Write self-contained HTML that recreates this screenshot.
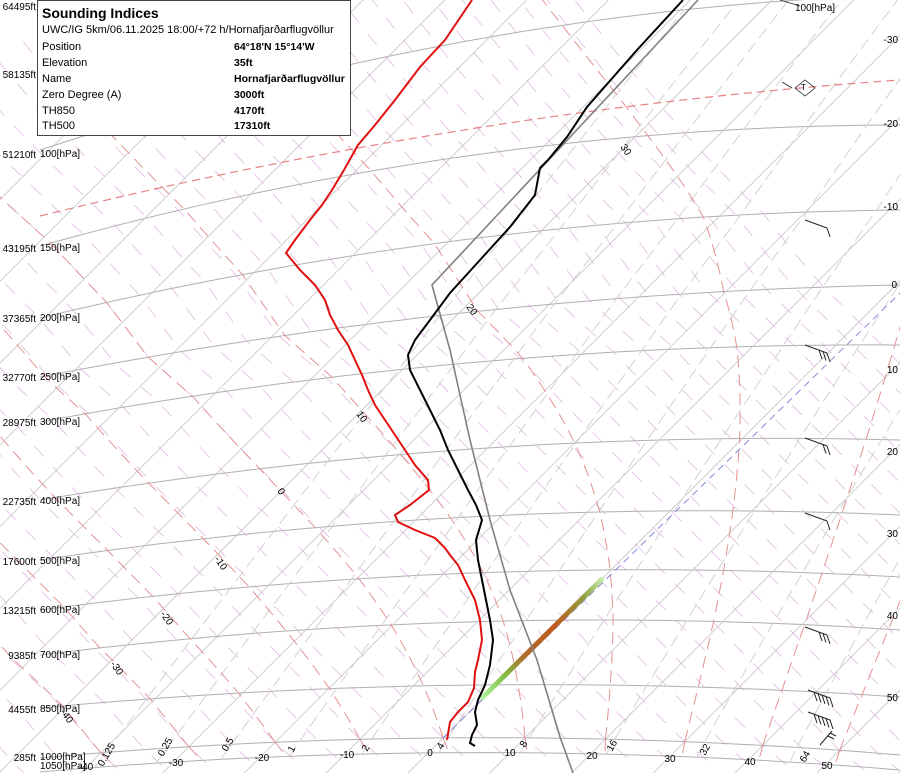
<!DOCTYPE html>
<html><head><meta charset="utf-8"><style>
html,body{margin:0;padding:0;background:#fff;width:900px;height:773px;overflow:hidden;}
#wrap{position:relative;width:900px;height:773px;overflow:hidden;font-family:"Liberation Sans",sans-serif;}
svg{position:absolute;left:0;top:0;}
.lg{position:absolute;left:37px;top:0;width:312px;height:134px;border:1px solid #444;background:#fff;font-size:11px;color:#000;}
.lg .t{font-size:14px;margin:4px 0 0 4px;height:17px;font-weight:bold;}
.lg .r{position:absolute;left:4px;white-space:nowrap;}
.lg .v{position:absolute;left:196px;font-weight:bold;font-size:10.5px;white-space:nowrap;}
</style></head><body><div id="wrap">
<svg id="s" width="900" height="773" viewBox="0 0 900 773" xmlns="http://www.w3.org/2000/svg"></svg>
<div class="lg">
<div class="t">Sounding Indices</div>
<div class="r" style="top:23px">UWC/IG 5km/06.11.2025 18:00/+72 h/Hornafjarðarflugvöllur</div>
<div class="r" style="top:40px">Position</div><div class="v" style="top:40px">64°18'N 15°14'W</div>
<div class="r" style="top:56px">Elevation</div><div class="v" style="top:56px">35ft</div>
<div class="r" style="top:72px">Name</div><div class="v" style="top:72px">Hornafjarðarflugvöllur</div>
<div class="r" style="top:88px">Zero Degree (A)</div><div class="v" style="top:88px">3000ft</div>
<div class="r" style="top:104px">TH850</div><div class="v" style="top:104px">4170ft</div>
<div class="r" style="top:119px">TH500</div><div class="v" style="top:119px">17310ft</div>
</div>
</div>
<script>
(function(){
var NS="http://www.w3.org/2000/svg",s=document.getElementById("s");
function el(t,a,txt){var e=document.createElementNS(NS,t);for(var k in a)e.setAttribute(k,a[k]);if(txt!==undefined)e.textContent=txt;s.appendChild(e);return e;}
var P=[1050,1000,850,700,600,500,400,300,250,200,150,100];
var YL=[772,758,708,655,610,560,500,422,377,318,246,150];
var YM=[754,739,685,620,570,512,442,353,300,225,140,20];
var YR=[770,755,697,630,577,515,440,345,285,210,125,-5];
function interp(arr,p){var l=Math.log(p);var i=0;for(i=0;i<P.length-2;i++){if(p>=P[i+1])break;}
var l0=Math.log(P[i]),l1=Math.log(P[i+1]);var f=(l-l0)/(l1-l0);return arr[i]+(arr[i+1]-arr[i])*f;}
function Y(p,x){var a=interp(YL,p),b=interp(YM,p),c=interp(YR,p);
var x0=40,x1=600,x2=900;
return a*(x-x1)*(x-x2)/((x0-x1)*(x0-x2))+b*(x-x0)*(x-x2)/((x1-x0)*(x1-x2))+c*(x-x0)*(x-x1)/((x2-x0)*(x2-x1));}
function xy(T,p){var C=1181+8.18*T,x=C-700,y;for(var i=0;i<40;i++){y=Y(p,x);x=C-y;}return [x,y];}
function poly(pts,st){var d="";pts.forEach(function(q,i){d+=(i?"L":"M")+q[0].toFixed(1)+","+q[1].toFixed(1);});st.d=d;st.fill="none";return el("path",st);}
P.forEach(function(p){var pts=[];for(var x=40;x<=900;x+=20)pts.push([x,Y(p,x)]);poly(pts,{stroke:"#b0b0b0","stroke-width":1});});
for(var T=-120;T<=60;T+=10){var C=1181+8.18*T;poly([[C-780,780],[C+20,-20]],{stroke:"#c4c4c4","stroke-width":0.8});}
for(var th=-80;th<=120;th+=5){var K=th+273.15,pts=[];for(var p=1060;p>=60;p-=10){var t=K*Math.pow(p/1000,0.2857)-273.15;pts.push(xy(t,p));}
poly(pts,{stroke:"#d8a2d8","stroke-width":0.8,"stroke-dasharray":"14,14","stroke-opacity":0.75});}
[0.125,0.25,0.5,1,2,4,8,16,32,64].forEach(function(w){var pts=[];for(var p=1050;p>=100;p-=10){var e=w*p/(622+w),l=Math.log(e/6.112);var td=243.5*l/(17.67-l);pts.push(xy(td,p));}
poly(pts,{stroke:"#d2d2d2","stroke-width":1,"stroke-dasharray":"12,6"});});
function es(tc){return 6.112*Math.exp(17.67*tc/(tc+243.5));}
function dTdp(T,p){var tc=T-273.15,e=es(tc),rs=0.622*e/(p-e),Rd=287,Lv=2.5e6,cp=1004;
return (1/p)*(Rd*T+Lv*rs)/(cp+Lv*Lv*rs*0.622/(Rd*T*T));}
for(var T0=-40;T0<=50;T0+=10){var T=T0+273.15,pts=[xy(T0,1000)],p=1000;
while(p>90){var k1=dTdp(T,p);var k2=dTdp(T-2.5*k1,p-2.5);T=T-5*k2;p-=5;pts.push(xy(T-273.15,p));}
poly(pts,{stroke:"#e49292","stroke-width":1,"stroke-dasharray":"12,7"});
T=T0+273.15;p=1000;var pd=[xy(T0,1000)];while(p<1050){T+=5*dTdp(T,p);p+=5;pd.push(xy(T-273.15,p));}
poly(pd,{stroke:"#e49292","stroke-width":1,"stroke-dasharray":"12,7"});}
el("path",{d:"M40,216 Q470,110 900,80",fill:"none",stroke:"#e88080","stroke-width":1.2,"stroke-dasharray":"8,5"});
var z0=xy(0,1000);el("path",{d:"M"+z0[0]+","+z0[1]+" L900,293",stroke:"#8888dd","stroke-width":1,"stroke-dasharray":"7,5",fill:"none"});
var g=el("linearGradient",{id:"gr",x1:"483",y1:"697",x2:"602",y2:"578",gradientUnits:"userSpaceOnUse"});
[["0","#b0f0a0"],["0.18","#80c040"],["0.35","#b06a2a"],["0.6","#c05a20"],["0.85","#90a040"],["1","#c8f0b0"]].forEach(function(a){var st=document.createElementNS(NS,"stop");st.setAttribute("offset",a[0]);st.setAttribute("stop-color",a[1]);g.appendChild(st);});
el("path",{d:"M481,699 L603,578",stroke:"url(#gr)","stroke-width":5,fill:"none"});
el("path",{d:"M698,0 L432,285 L450,350 L470,440 L490,520 L510,590 L537,660 L560,737 L573,773",fill:"none",stroke:"#808080","stroke-width":1.6});
el("path",{d:"M472,0 L445,40 L420,67 L395,100 L375,125 L358,145 L344,170 L332,190 L322,205 L310,220 L295,240 L286,253 L300,270 L315,285 L325,300 L330,315 L338,330 L348,345 L355,360 L362,375 L368,390 L375,405 L385,420 L395,435 L405,450 L415,465 L428,480 L429,490 L410,505 L395,515 L398,522 L415,530 L435,538 L445,548 L450,555 L458,565 L465,580 L475,600 L480,620 L482,640 L478,660 L475,672 L474,688 L468,702 L458,712 L450,722 L447,740",fill:"none",stroke:"#e01010","stroke-width":2});
el("path",{d:"M683,0 L637,50 L587,107 L567,137 L548,160 L540,168 L535,195 L510,227 L480,260 L450,293 L430,320 L415,340 L408,355 L410,370 L420,390 L430,410 L440,430 L448,450 L458,470 L468,490 L476,505 L482,520 L476,540 L478,560 L482,580 L486,600 L490,620 L493,640 L490,665 L485,685 L478,700 L475,712 L477,725 L472,735 L470,743 L475,746",fill:"none",stroke:"#000","stroke-width":2});
function barb(x,y,n){el("path",{d:"M"+x+","+y+" l22,8",stroke:"#222","stroke-width":1,fill:"none"});
for(var i=0;i<n;i++){var bx=x+22-i*4,by=y+8-i*1.5;el("path",{d:"M"+bx+","+by+" l3,9",stroke:"#222","stroke-width":1,fill:"none"});}}
barb(805,220,1);barb(805,345,3);barb(805,438,2);barb(805,513,1);barb(805,627,3);barb(808,690,5);barb(808,712,5);
el("path",{d:"M820,745 l12,-14 M830,733 l6,3 M828,736 l6,3",stroke:"#222","stroke-width":1,fill:"none"});
el("path",{d:"M780,0 l20,6 M792,88 l-10,-6 M795,88 l10,-8 l10,8 l-10,8 z",stroke:"#222","stroke-width":0.8,fill:"none"});
el("text",{x:801,y:90,"font-size":8,"font-family":"Liberation Sans"},"T");
function tx(x,y,t,o){var a={x:x,y:y,"font-size":o&&o.fs||10,"font-family":"Liberation Sans, sans-serif",fill:"#000"};if(o&&o.rot!==undefined)a.transform="rotate("+o.rot+" "+x+" "+y+")";if(o&&o.anchor)a["text-anchor"]=o.anchor;el("text",a,t);}
[["64495ft",10,""],["58135ft",78,""],["51210ft",158,"100[hPa]"],["43195ft",252,"150[hPa]"],["37365ft",322,"200[hPa]"],["32770ft",381,"250[hPa]"],["28975ft",426,"300[hPa]"],["22735ft",505,"400[hPa]"],["17600ft",565,"500[hPa]"],["13215ft",614,"600[hPa]"],["9385ft",659,"700[hPa]"],["4455ft",713,"850[hPa]"],["285ft",761,"1000[hPa]"]].forEach(function(r){tx(36,r[1],r[0],{anchor:"end"});if(r[2])tx(40,r[1]-1,r[2]);});
tx(40,769,"1050[hPa]");tx(795,11,"100[hPa]");
[[-30,43],[-20,127],[-10,210],[0,288],[10,373],[20,455],[30,537],[40,619],[50,701]].forEach(function(r){tx(r[0]===0?897:898,r[1],String(r[0]),{anchor:"end"});});
[["-40",86,770],["-30",176,766],["-20",262,761],["-10",347,758],["0",430,756],["10",510,756],["20",592,759],["30",670,762],["40",750,765],["50",827,769]].forEach(function(r){tx(r[1],r[2],r[0],{anchor:"middle"});});
[["0.125",103,767],["0.25",163,757],["0.5",227,752],["1",293,753],["2",367,752],["4",442,750],["8",525,748],["16",612,752],["32",705,756],["64",805,763]].forEach(function(r){tx(r[1],r[2],r[0],{rot:-60,anchor:"start"});});
[["-40",60,712],["-30",110,664],["-20",160,614],["-10",214,559],["0",277,491],["10",356,414],["20",466,307],["30",620,147]].forEach(function(r){tx(r[1],r[2],r[0],{rot:55});});
})();
</script></body></html>
